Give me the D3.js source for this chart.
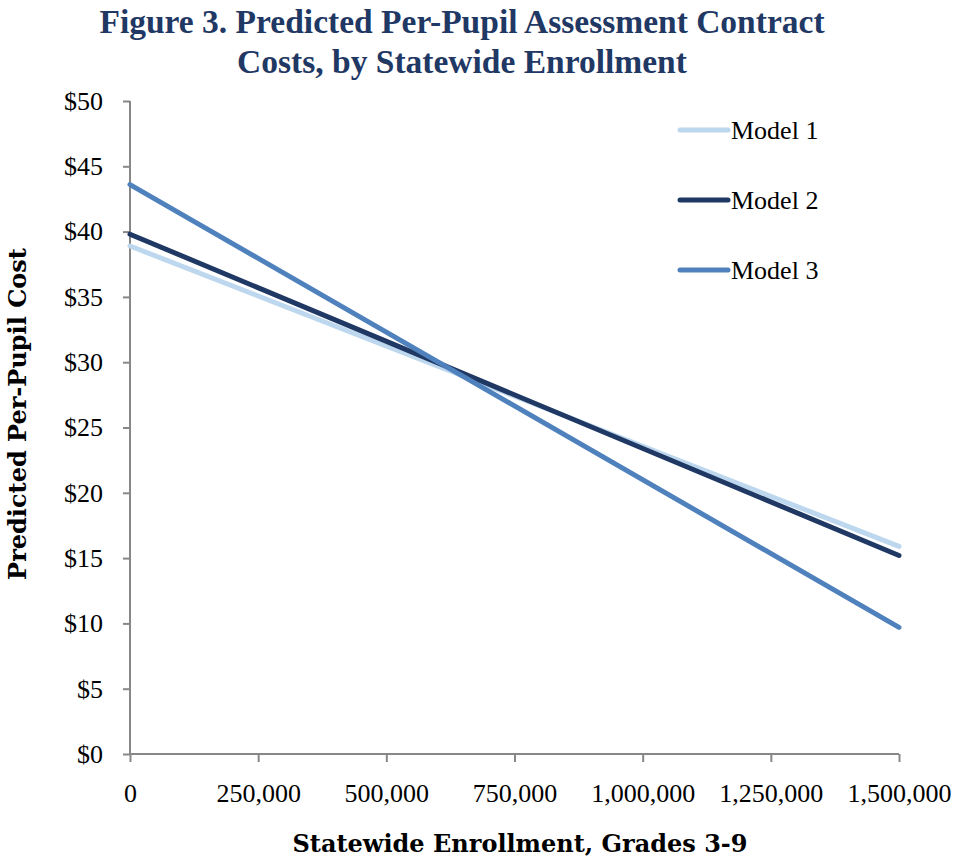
<!DOCTYPE html>
<html>
<head>
<meta charset="utf-8">
<script src="https://cdn.jsdelivr.net/npm/d3@7"></script>
<style>
  body { margin: 0; background: #fff; }
  text { font-family: "Liberation Serif", "DejaVu Serif", serif; }
</style>
</head>
<body>
<div id="chart"></div>
<script>
// data
enrollment = [0, 1500000]
model1 = [38.9, 15.9]
model2 = [39.8, 15.2]
model3 = [43.6, 9.7]
seriesNames = ["Model 1", "Model 2", "Model 3"]
xTicks = [0, 250000, 500000, 750000, 1000000, 1250000, 1500000]
yTicks = [0, 5, 10, 15, 20, 25, 30, 35, 40, 45, 50]

colors = ["#bdd7ee", "#1f3864", "#4f81bd"]
width = 953
height = 860
plotLeft = 130
plotRight = 899
plotTop = 101
plotBottom = 754

svg = d3.select("#chart").append("svg")
  .attr("width", width)
  .attr("height", height)

x = d3.scaleLinear().domain([0, 1500000]).range([plotLeft, plotRight])
y = d3.scaleLinear().domain([0, 50]).range([plotBottom, plotTop])

// title
title = svg.append("text")
  .attr("text-anchor", "middle")
  .attr("fill", "#1f3864")
  .attr("font-weight", "bold")
  .attr("font-size", 33.5)
title.append("tspan").attr("x", 462).attr("y", 33).text("Figure 3. Predicted Per-Pupil Assessment Contract")
title.append("tspan").attr("x", 462).attr("y", 73).text("Costs, by Statewide Enrollment")

// axes
yAxis = svg.append("g")
  .attr("transform", "translate(" + plotLeft + ",0)")
  .call(d3.axisLeft(y).tickValues(yTicks).tickSize(7).tickPadding(20)
    .tickFormat(function(d) { return "$" + d }))
xAxis = svg.append("g")
  .attr("transform", "translate(0," + plotBottom + ")")
  .call(d3.axisBottom(x).tickValues(xTicks).tickSize(8).tickPadding(22)
    .tickFormat(d3.format(",")))

svg.selectAll(".domain").attr("stroke", "#878787").attr("stroke-width", 2)
svg.selectAll(".tick line").attr("stroke", "#878787").attr("stroke-width", 2)
svg.selectAll(".tick text")
  .attr("fill", "#000")
  .attr("font-size", 26)
  .style("font-family", "Liberation Serif")
yAxis.select(".domain").attr("d", "M0," + plotTop + "V" + plotBottom)
xAxis.select(".domain").attr("d", "M" + plotLeft + ",0H" + plotRight)

// axis titles
svg.append("text")
  .attr("transform", "translate(26,414) rotate(-90)")
  .attr("text-anchor", "middle")
  .attr("font-weight", "bold")
  .attr("font-size", 24)
  .style("font-family", "DejaVu Serif")
  .text("Predicted Per-Pupil Cost")
svg.append("text")
  .attr("x", 520)
  .attr("y", 852)
  .attr("text-anchor", "middle")
  .attr("font-weight", "bold")
  .attr("font-size", 24)
  .style("font-family", "DejaVu Serif")
  .text("Statewide Enrollment, Grades 3-9")

// lines
series = [model1, model2, model3]
line = d3.line()
  .x(function(d, i) { return x(enrollment[i]) })
  .y(function(d) { return y(d) })

svg.selectAll(".series")
  .data(series)
  .enter()
  .append("path")
  .attr("class", "series")
  .attr("d", line)
  .attr("fill", "none")
  .attr("stroke", function(d, i) { return colors[i] })
  .attr("stroke-width", 5)
  .attr("stroke-linecap", "round")

// legend
legend = svg.selectAll(".legend")
  .data(seriesNames)
  .enter()
  .append("g")
  .attr("class", "legend")
  .attr("transform", function(d, i) { return "translate(680," + (130 + i * 70) + ")" })
legend.append("line")
  .attr("x1", 0).attr("x2", 48)
  .attr("stroke", function(d, i) { return colors[i] })
  .attr("stroke-width", 5)
  .attr("stroke-linecap", "round")
legend.append("text")
  .attr("x", 51)
  .attr("y", 9)
  .attr("font-size", 26)
  .text(function(d) { return d })
</script>
</body>
</html>
